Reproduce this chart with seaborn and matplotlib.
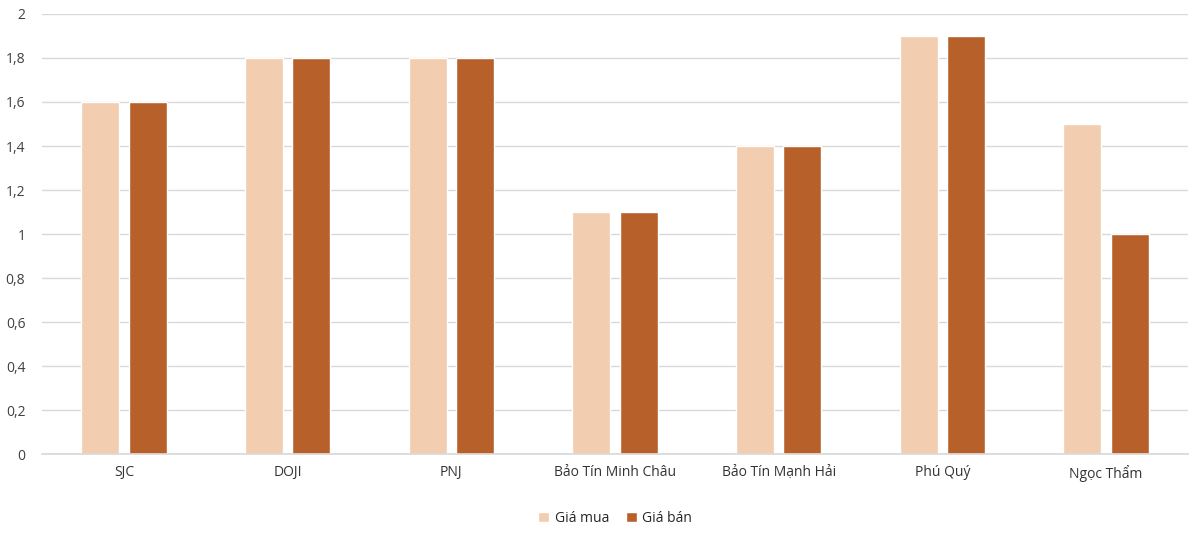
import matplotlib
matplotlib.use("Agg")
import matplotlib.pyplot as plt
import seaborn as sns
import pandas as pd

categories = ["SJC", "DOJI", "PNJ", "Bảo Tín Minh Châu", "Bảo Tín Mạnh Hải", "Phú Quý", "Ngọc Thẩm"]
gia_mua = [1.6, 1.8, 1.8, 1.1, 1.4, 1.9, 1.5]
gia_ban = [1.6, 1.8, 1.8, 1.1, 1.4, 1.9, 1.0]
series = ["Giá mua", "Giá bán"]
colors = ["#F2CDB0", "#B8602A"]
yticks = [0, 0.2, 0.4, 0.6, 0.8, 1, 1.2, 1.4, 1.6, 1.8, 2]

df = pd.DataFrame({
    "cat": categories * 2,
    "val": gia_mua + gia_ban,
    "s": [series[0]] * len(categories) + [series[1]] * len(categories),
})

sns.set_theme(style="white")
plt.rcParams['font.family'] = ['Open Sans', 'DejaVu Sans']
fig = plt.figure(figsize=(12, 5.35), dpi=100)
ax = fig.add_axes([0.035, 0.151, 0.955, 0.823])
sns.barplot(data=df, x="cat", y="val", hue="s", palette=colors, width=0.58, gap=0.2,
            ax=ax, saturation=1, legend=True)
ax.set_ylim(0, 2)
ax.set_yticks(yticks)
ax.set_yticklabels([f"{v:g}".replace(".", ",") for v in yticks], fontsize=10, color="#404040")
ax.tick_params(axis="x", labelsize=10, colors="#333333", length=0, pad=8)
ax.tick_params(axis="y", length=0, pad=12)
ax.grid(axis="y", color="#D9D9D9", linewidth=1)
ax.set_axisbelow(True)
for s in ["top", "right", "left"]:
    ax.spines[s].set_visible(False)
ax.spines["bottom"].set_color("#D9D9D9")
ax.set_xlabel("")
ax.set_ylabel("")
ax.set_xlim(-0.5, len(categories) - 0.5)
ax.legend(loc="upper center", bbox_to_anchor=(0.5, -0.1), ncol=2, frameon=False,
          fontsize=10, handlelength=0.8, handleheight=0.8, columnspacing=1.2, handletextpad=0.4)
fig.savefig("out.png", dpi=100)
